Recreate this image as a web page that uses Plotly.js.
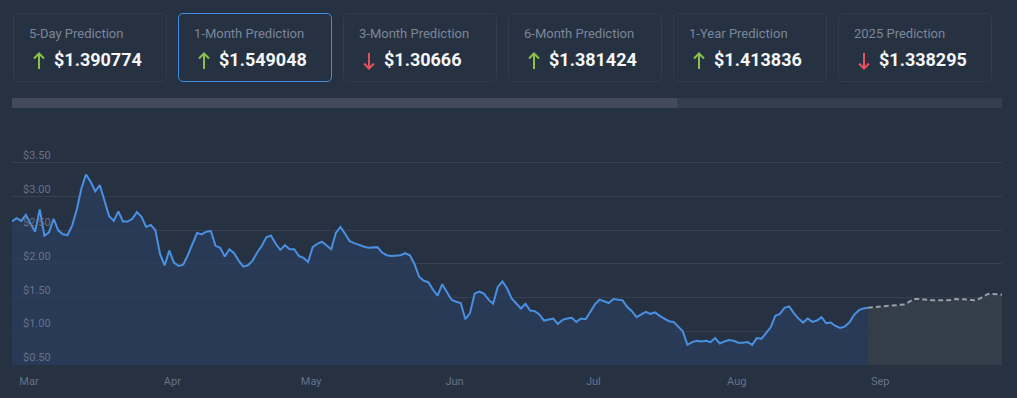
<!DOCTYPE html>
<html>
<head>
<meta charset="utf-8">
<script src="https://cdn.plot.ly/plotly-3.0.1.min.js"></script>
<style>
  html, body { margin: 0; padding: 0; }
  body { width: 1017px; height: 398px; background: #263142; position: relative; overflow: hidden; font-family: Roboto, "Noto Sans", sans-serif; }
  .card { position: absolute; top: 13px; width: 152px; height: 67px; border: 1px solid #303b4b; border-radius: 5px; box-sizing: content-box; }
  .card.active { border-color: #3f8ee0; }
  .card .ttl { position: absolute; left: 15px; top: 12px; font-size: 13px; line-height: 15px; color: #7b8699; white-space: nowrap; }
  .card .val { position: absolute; left: 40px; top: 35px; font-size: 18px; line-height: 21px; font-weight: 700; color: #f4f6f8; white-space: nowrap; }
  .card svg { position: absolute; left: 19px; top: 38px; }
  #track { position: absolute; left: 12px; top: 98px; width: 990px; height: 10px; background: #353e4e; }
  #thumb { position: absolute; left: 12px; top: 98px; width: 665px; height: 10px; background: #434b5b; }
  #chart { position: absolute; left: 0; top: 0; width: 1017px; height: 398px; }
</style>
</head>
<body>
<div id="cards"></div>
<div id="track"></div>
<div id="thumb"></div>
<div id="chart"></div>
<script>
// ---- data ----
const cardTitles = ["5-Day Prediction", "1-Month Prediction", "3-Month Prediction", "6-Month Prediction", "1-Year Prediction", "2025 Prediction"];
const cardValues = ["$1.390774", "$1.549048", "$1.30666", "$1.381424", "$1.413836", "$1.338295"];
const cardDirections = ["up", "up", "down", "up", "up", "down"];

const historyStart = "2024-02-26 08:00";
const historyPrices = [
  2.63, 2.68, 2.64, 2.73, 2.60, 2.48, 2.81, 2.42, 2.47, 2.67,
  2.50, 2.44, 2.43, 2.57, 2.81, 3.12, 3.33, 3.22, 3.08, 3.17,
  2.94, 2.71, 2.64, 2.78, 2.63, 2.63, 2.67, 2.77, 2.70, 2.55,
  2.58, 2.50, 2.15, 1.98, 2.20, 2.02, 1.97, 1.99, 2.13, 2.29,
  2.46, 2.44, 2.48, 2.49, 2.27, 2.24, 2.11, 2.22, 2.16, 2.05,
  1.96, 1.98, 2.05, 2.17, 2.27, 2.40, 2.42, 2.30, 2.21, 2.28,
  2.22, 2.22, 2.12, 2.09, 2.03, 2.25, 2.30, 2.33, 2.27, 2.22,
  2.46, 2.55, 2.45, 2.34, 2.31, 2.28, 2.26, 2.24, 2.25, 2.25,
  2.17, 2.13, 2.12, 2.12, 2.13, 2.16, 2.13, 2.00, 1.81, 1.75,
  1.73, 1.62, 1.53, 1.70, 1.58, 1.47, 1.44, 1.42, 1.18, 1.27,
  1.56, 1.59, 1.56, 1.47, 1.41, 1.66, 1.74, 1.64, 1.49, 1.42,
  1.34, 1.41, 1.31, 1.30, 1.25, 1.16, 1.18, 1.19, 1.11, 1.17,
  1.19, 1.20, 1.14, 1.19, 1.18, 1.30, 1.40, 1.47, 1.45, 1.42,
  1.48, 1.47, 1.46, 1.36, 1.30, 1.21, 1.25, 1.29, 1.26, 1.28,
  1.23, 1.19, 1.15, 1.14, 1.07, 1.00, 0.80, 0.84, 0.86, 0.85,
  0.86, 0.84, 0.90, 0.82, 0.85, 0.87, 0.86, 0.83, 0.83, 0.84,
  0.80, 0.90, 0.89, 0.97, 1.06, 1.23, 1.26, 1.35, 1.37, 1.27,
  1.19, 1.13, 1.19, 1.14, 1.16, 1.21, 1.12, 1.13, 1.08, 1.05,
  1.07, 1.13, 1.24, 1.31, 1.34, 1.35
];

const forecastStart = "2024-08-29 08:00";
const forecastPrices = [
  1.35, 1.355, 1.36, 1.37, 1.38, 1.38, 1.385, 1.39, 1.40, 1.44,
  1.48, 1.48, 1.47, 1.465, 1.46, 1.46, 1.46, 1.46, 1.465, 1.48,
  1.48, 1.48, 1.47, 1.46, 1.48, 1.52, 1.555, 1.555, 1.55, 1.545
];
const rangeEnd = "2024-09-27 08:00";

const monthTickDates = ["2024-03-01", "2024-04-01", "2024-05-01", "2024-06-01", "2024-07-01", "2024-08-01", "2024-09-01"];
const monthTickLabels = ["Mar", "Apr", "May", "Jun", "Jul", "Aug", "Sep"];
const priceTickValues = [0.5, 1.0, 1.5, 2.0, 2.5, 3.0, 3.5];
const priceTickLabels = ["$0.50", "$1.00", "$1.50", "$2.00", "$2.50", "$3.00", "$3.50"];

// ---- cards ----
const cardsEl = document.getElementById("cards");
const upSvg = '<svg width="12" height="18" viewBox="0 0 12 18"><path d="M6 1.5 V17 M1 6.5 L6 1.5 L11 6.5" fill="none" stroke="#8cc04b" stroke-width="2" stroke-linecap="butt"/></svg>';
const downSvg = '<svg width="12" height="18" viewBox="0 0 12 18"><path d="M6 1 V16.5 M1 11.5 L6 16.5 L11 11.5" fill="none" stroke="#e8505b" stroke-width="2" stroke-linecap="butt"/></svg>';
cardTitles.forEach((t, i) => {
  const c = document.createElement("div");
  c.className = "card" + (i === 1 ? " active" : "");
  c.style.left = (13 + i * 165) + "px";
  c.innerHTML = '<div class="ttl">' + t + '</div>' +
    (cardDirections[i] === "up" ? upSvg : downSvg) +
    '<div class="val">' + cardValues[i] + '</div>';
  cardsEl.appendChild(c);
});

// ---- chart ----
const DAY = 86400000;
const traces = [
  {
    type: "scatter", mode: "lines",
    x0: historyStart, dx: DAY, y: historyPrices,
    line: { color: "#4a90e2", width: 2 },
    fill: "tozeroy", fillcolor: "rgba(42,62,92,0.75)",
    hoverinfo: "skip"
  },
  {
    type: "scatter", mode: "lines",
    x0: forecastStart, dx: DAY, y: forecastPrices,
    line: { color: "#9a9ea5", width: 2, dash: "5px,3px" },
    fill: "tozeroy", fillcolor: "#343d4a",
    hoverinfo: "skip"
  }
];

const tickFont = { family: "Roboto, sans-serif", size: 11, color: "#66728a" };
const layout = {
  width: 1017, height: 398,
  margin: { l: 12, r: 15, t: 146, b: 33, pad: 0 },
  paper_bgcolor: "rgba(0,0,0,0)",
  plot_bgcolor: "rgba(0,0,0,0)",
  showlegend: false,
  font: tickFont,
  xaxis: {
    type: "date",
    range: [historyStart, rangeEnd],
    tickmode: "array", tickvals: monthTickDates, ticktext: monthTickLabels,
    showgrid: false, zeroline: false, showline: false,
    ticks: "", ticklabelstandoff: 8,
    tickfont: tickFont,
    fixedrange: true
  },
  yaxis: {
    range: [0.5, 3.752],
    anchor: "free", position: 0, side: "right",
    tickmode: "array", tickvals: priceTickValues, ticktext: priceTickLabels,
    showgrid: true, gridcolor: "#364050", gridwidth: 1,
    zeroline: false, showline: false,
    ticks: "", ticklabelposition: "outside top", ticklabelstandoff: 10,
    tickfont: tickFont,
    fixedrange: true
  }
};

Plotly.newPlot("chart", traces, layout, { displayModeBar: false, staticPlot: true });
</script>
</body>
</html>
